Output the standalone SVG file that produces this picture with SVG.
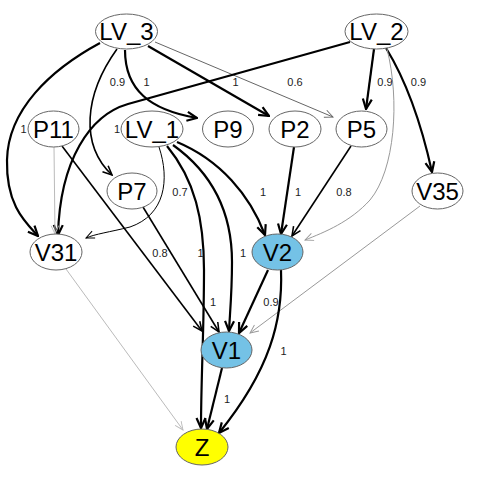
<svg xmlns="http://www.w3.org/2000/svg" width="480" height="480" viewBox="0 0 480 480">
<style>
.nd{fill:#fff;stroke:#666;stroke-width:1}
.bl{fill:#74c2e6}
.ye{fill:#ffff00}
.nt{font-family:"Liberation Sans",Arial,sans-serif;font-size:24px;text-anchor:middle;fill:#000}
.lb{font-family:"Liberation Sans",Arial,sans-serif;font-size:11px;text-anchor:middle;fill:#222}
.e{fill:none}
.k{stroke:#000;stroke-width:2.2}
.m{stroke:#000;stroke-width:1.6}
.t{stroke:#000;stroke-width:1}
.g1{stroke:#666;stroke-width:1}
.g2{stroke:#999;stroke-width:1}
.g3{stroke:#bbb;stroke-width:1}
</style>
<defs>
<marker id="ak" viewBox="0 0 12 12" refX="11" refY="6" markerWidth="12" markerHeight="12" markerUnits="userSpaceOnUse" orient="auto"><path d="M1,1.5 L11,6 L1,10.5" fill="none" stroke="#000" stroke-width="2.2"/></marker>
<marker id="am" viewBox="0 0 12 12" refX="11" refY="6" markerWidth="11" markerHeight="11" markerUnits="userSpaceOnUse" orient="auto"><path d="M1,1.5 L11,6 L1,10.5" fill="none" stroke="#000" stroke-width="1.7"/></marker>
<marker id="at" viewBox="0 0 12 12" refX="11" refY="6" markerWidth="10" markerHeight="10" markerUnits="userSpaceOnUse" orient="auto"><path d="M1,1.5 L11,6 L1,10.5" fill="none" stroke="#000" stroke-width="1.2"/></marker>
<marker id="ag1" viewBox="0 0 12 12" refX="11" refY="6" markerWidth="10" markerHeight="10" markerUnits="userSpaceOnUse" orient="auto"><path d="M1,1.5 L11,6 L1,10.5" fill="none" stroke="#666" stroke-width="1.1"/></marker>
<marker id="ag2" viewBox="0 0 12 12" refX="11" refY="6" markerWidth="10" markerHeight="10" markerUnits="userSpaceOnUse" orient="auto"><path d="M1,1.5 L11,6 L1,10.5" fill="none" stroke="#999" stroke-width="1.1"/></marker>
<marker id="ag3" viewBox="0 0 12 12" refX="11" refY="6" markerWidth="10" markerHeight="10" markerUnits="userSpaceOnUse" orient="auto"><path d="M1,1.5 L11,6 L1,10.5" fill="none" stroke="#bbb" stroke-width="1.1"/></marker>
</defs>
<g id="connectors">
<path class="e k" marker-end="url(#ak)" d="M100,43 C50,70 8,110 7,160 C6,205 25,222 38,236"/>
<path class="e m" marker-end="url(#am)" d="M117,49 C84,95 80,145 112,175"/>
<path class="e k" marker-end="url(#ak)" d="M125,50 C125,90 150,110 197,118"/>
<path class="e k" marker-end="url(#ak)" d="M148,46 L269,116"/>
<path class="e g1" marker-end="url(#ag1)" d="M155,42 L333,117"/>
<path class="e k" marker-end="url(#ak)" d="M350,42 L128,104 C90,115 60,160 58,235"/>
<path class="e k" marker-end="url(#ak)" d="M374,49 L366,109"/>
<path class="e k" marker-end="url(#ak)" d="M386,48 Q415,95 432,172"/>
<path class="e g2" marker-end="url(#ag2)" d="M387,49 C400,100 395,170 370,200 C350,222 325,232 305,240"/>
<path class="e g3" marker-end="url(#ag3)" d="M54,147 L55,234"/>
<path class="e m" marker-end="url(#am)" d="M62,146 L202,331"/>
<path class="e t" marker-end="url(#at)" d="M159,147 C170,180 165,215 130,227 C110,232 95,234 86,238"/>
<path class="e k" marker-end="url(#ak)" d="M167,146 C195,180 204,220 204,270 C204,330 201,380 201,428"/>
<path class="e k" marker-end="url(#ak)" d="M173,145 C215,175 232,215 232,262 C232,292 230,312 229,331"/>
<path class="e k" marker-end="url(#ak)" d="M177,142 C220,160 250,195 265,235"/>
<path class="e k" marker-end="url(#ak)" d="M294,147 L281,234"/>
<path class="e m" marker-end="url(#am)" d="M351,146 L292,236"/>
<path class="e m" marker-end="url(#am)" d="M143,207 L219,332"/>
<path class="e g2" marker-end="url(#ag2)" d="M420,206 L250,333"/>
<path class="e k" marker-end="url(#ak)" d="M268,270 L239,333"/>
<path class="e k" marker-end="url(#ak)" d="M281,270 C283,320 270,370 219,433"/>
<path class="e k" marker-end="url(#ak)" d="M222,368 L207,429"/>
<path class="e g3" marker-end="url(#ag3)" d="M66,269 L183,430"/>
</g>
<g id="labels">
<text class="lb" x="117.5" y="86">0.9</text>
<text class="lb" x="146.5" y="86">1</text>
<text class="lb" x="235.5" y="86">1</text>
<text class="lb" x="295" y="86">0.6</text>
<text class="lb" x="385" y="86">0.9</text>
<text class="lb" x="418.5" y="86">0.9</text>
<text class="lb" x="23.5" y="133">1</text>
<text class="lb" x="117" y="133">1</text>
<text class="lb" x="180" y="196">0.7</text>
<text class="lb" x="263" y="196">1</text>
<text class="lb" x="298" y="196">1</text>
<text class="lb" x="344" y="196">0.8</text>
<text class="lb" x="160" y="257">0.8</text>
<text class="lb" x="200.5" y="257">1</text>
<text class="lb" x="243" y="257">1</text>
<text class="lb" x="213" y="306">1</text>
<text class="lb" x="271" y="306">0.9</text>
<text class="lb" x="283.5" y="355">1</text>
<text class="lb" x="227" y="403">1</text>
</g>
<g id="LV_3"><ellipse class="nd" cx="126.5" cy="31.5" rx="31" ry="17.5"/><text class="nt" x="126.5" y="40">LV_3</text></g>
<g id="LV_2"><ellipse class="nd" cx="376.5" cy="31.5" rx="31.5" ry="17.5"/><text class="nt" x="376.5" y="40">LV_2</text></g>
<g id="P11"><ellipse class="nd" cx="53.5" cy="129" rx="25.5" ry="18"/><text class="nt" x="53.5" y="137.5">P11</text></g>
<g id="LV_1"><ellipse class="nd" cx="152" cy="129" rx="31" ry="18"/><text class="nt" x="152" y="137.5">LV_1</text></g>
<g id="P9"><ellipse class="nd" cx="228" cy="129" rx="25.5" ry="18"/><text class="nt" x="228" y="137.5">P9</text></g>
<g id="P2"><ellipse class="nd" cx="295" cy="129" rx="26" ry="18"/><text class="nt" x="295" y="137.5">P2</text></g>
<g id="P5"><ellipse class="nd" cx="361.5" cy="129" rx="25.5" ry="18"/><text class="nt" x="361.5" y="137.5">P5</text></g>
<g id="P7"><ellipse class="nd" cx="132" cy="191" rx="25" ry="18"/><text class="nt" x="132" y="199.5">P7</text></g>
<g id="V35"><ellipse class="nd" cx="437.5" cy="191" rx="25.5" ry="18"/><text class="nt" x="437.5" y="199.5">V35</text></g>
<g id="V31"><ellipse class="nd" cx="56" cy="252" rx="26" ry="18"/><text class="nt" x="56" y="260.5">V31</text></g>
<g id="V2"><ellipse class="nd bl" cx="277.5" cy="252" rx="25.5" ry="18"/><text class="nt" x="277.5" y="260.5">V2</text></g>
<g id="V1"><ellipse class="nd bl" cx="226.5" cy="350" rx="25.5" ry="18"/><text class="nt" x="226.5" y="358.5">V1</text></g>
<g id="Z"><ellipse class="nd ye" cx="202" cy="447" rx="26" ry="18"/><text class="nt" x="202" y="455.5">Z</text></g>
</svg>
